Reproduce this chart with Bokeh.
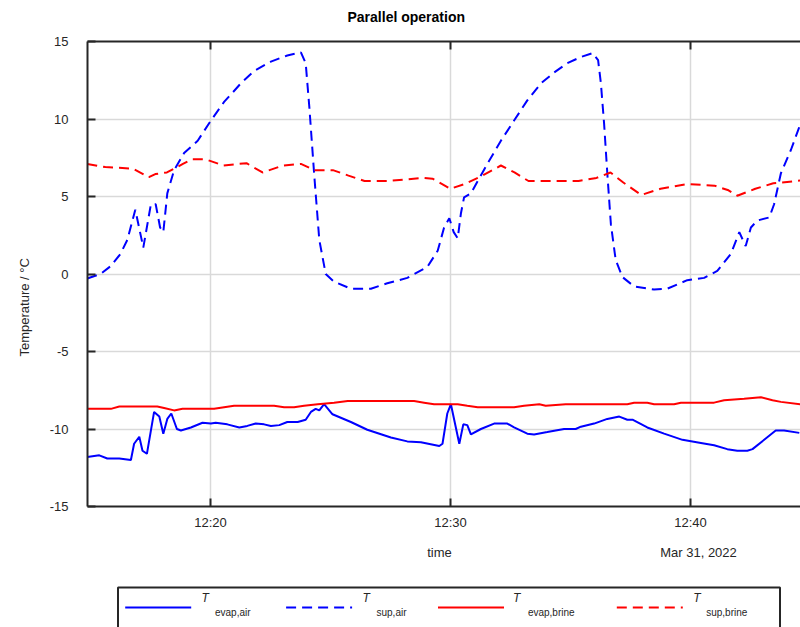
import pandas as pd
from bokeh.plotting import figure
from bokeh.models import Range1d, FixedTicker, DatetimeAxis, DatetimeTickFormatter, Title, CustomJSTickFormatter
from bokeh.layouts import column
from bokeh.core.properties import value
from bokeh.embed import file_html
from bokeh.resources import INLINE

DAY = "2022-03-31"

evap_air_time = ["12:14:52", "12:15:22", "12:15:42", "12:16:12", "12:16:41", "12:16:49", "12:17:02", "12:17:10",
                 "12:17:21", "12:17:39", "12:17:52", "12:18:02", "12:18:12", "12:18:22", "12:18:36", "12:18:46",
                 "12:19:11", "12:19:40", "12:20:01", "12:20:13", "12:20:42", "12:21:12", "12:21:32", "12:21:53",
                 "12:22:14", "12:22:31", "12:22:52", "12:23:12", "12:23:38", "12:23:58", "12:24:11", "12:24:23",
                 "12:24:32", "12:24:44", "12:25:05", "12:25:51", "12:26:32", "12:27:31", "12:28:12", "12:28:46",
                 "12:29:32", "12:29:40", "12:29:52", "12:30:01", "12:30:22", "12:30:32", "12:30:42", "12:30:51",
                 "12:31:16", "12:31:49", "12:32:22", "12:32:39", "12:33:12", "12:33:29", "12:34:02", "12:34:44",
                 "12:35:13", "12:35:26", "12:35:59", "12:36:32", "12:37:02", "12:37:22", "12:37:35", "12:38:12",
                 "12:38:54", "12:39:40", "12:40:26", "12:40:59", "12:41:32", "12:41:57", "12:42:22", "12:42:35",
                 "12:43:33", "12:43:54", "12:44:32"]
evap_air = [-11.8, -11.7, -11.9, -11.9, -12.0, -10.95, -10.5, -11.4, -11.6, -8.9, -9.2, -10.3, -9.35, -9.0, -10.0,
            -10.1, -9.9, -9.6, -9.65, -9.6, -9.7, -9.9, -9.8, -9.65, -9.7, -9.8, -9.75, -9.55, -9.55, -9.4, -8.9,
            -8.7, -8.8, -8.4, -9.05, -9.55, -10.05, -10.55, -10.8, -10.85, -11.1, -10.95, -9.0, -8.4, -10.95, -9.7,
            -9.75, -10.35, -10.0, -9.65, -9.65, -9.9, -10.3, -10.35, -10.2, -10.0, -10.0, -9.85, -9.65, -9.35, -9.2,
            -9.4, -9.4, -9.9, -10.3, -10.7, -10.9, -11.05, -11.3, -11.4, -11.4, -11.3, -10.1, -10.1, -10.25]

sup_air_time = ["12:14:52", "12:15:25", "12:15:50", "12:16:15", "12:16:32", "12:16:52", "12:17:12", "12:17:31",
                "12:17:43", "12:17:54", "12:18:02", "12:18:12", "12:18:29", "12:18:54", "12:19:28", "12:20:01",
                "12:20:34", "12:21:16", "12:21:49", "12:22:31", "12:23:12", "12:23:46", "12:23:58", "12:24:07",
                "12:24:19", "12:24:32", "12:24:48", "12:25:09", "12:25:51", "12:26:41", "12:27:22", "12:28:12",
                "12:29:02", "12:29:28", "12:29:44", "12:29:57", "12:30:08", "12:30:18", "12:30:26", "12:30:34",
                "12:30:51", "12:31:08", "12:31:32", "12:32:06", "12:32:39", "12:33:12", "12:33:46", "12:34:19",
                "12:34:52", "12:35:26", "12:35:55", "12:36:09", "12:36:16", "12:36:24", "12:36:32", "12:36:41",
                "12:36:53", "12:37:10", "12:37:39", "12:38:29", "12:39:02", "12:39:52", "12:40:34", "12:41:07",
                "12:41:41", "12:42:02", "12:42:18", "12:42:31", "12:42:47", "12:43:17", "12:43:29", "12:43:46",
                "12:44:11", "12:44:35", "12:45:00"]
sup_air = [-0.29, 0.0, 0.5, 1.3, 2.2, 4.15, 1.7, 4.5, 4.5, 3.0, 2.7, 5.2, 6.7, 7.8, 8.6, 9.9, 11.1, 12.3, 13.1,
           13.7, 14.1, 14.3, 13.6, 10.8, 6.5, 2.2, 0.0, -0.5, -0.95, -0.95, -0.6, -0.25, 0.45, 1.5, 3.0, 3.6, 2.7,
           2.3, 3.9, 4.95, 5.2, 6.0, 7.1, 8.6, 9.9, 11.2, 12.3, 13.0, 13.6, 14.0, 14.25, 13.8, 12.3, 9.7, 6.5, 3.2,
           0.9, -0.2, -0.8, -1.0, -0.95, -0.4, -0.25, 0.2, 1.3, 2.7, 1.8, 3.0, 3.45, 3.65, 4.5, 6.5, 8.0, 9.7, 11.0]

evap_brine_time = ["12:14:52", "12:15:51", "12:16:12", "12:17:47", "12:18:04", "12:18:29", "12:18:50", "12:20:09",
                   "12:20:34", "12:20:59", "12:22:39", "12:23:04", "12:23:29", "12:23:54", "12:24:28", "12:25:09",
                   "12:25:43", "12:28:29", "12:28:54", "12:29:19", "12:30:18", "12:30:42", "12:31:08", "12:32:39",
                   "12:33:04", "12:33:42", "12:33:58", "12:34:48", "12:37:22", "12:37:39", "12:38:12", "12:38:29",
                   "12:39:19", "12:39:36", "12:40:59", "12:41:24", "12:42:14", "12:42:56", "12:43:25", "12:43:46",
                   "12:44:35"]
evap_brine = [-8.7, -8.7, -8.55, -8.55, -8.65, -8.8, -8.7, -8.7, -8.6, -8.5, -8.5, -8.6, -8.6, -8.5, -8.4, -8.3,
              -8.2, -8.2, -8.3, -8.4, -8.4, -8.5, -8.6, -8.6, -8.5, -8.4, -8.5, -8.4, -8.4, -8.3, -8.3, -8.4, -8.4,
              -8.3, -8.3, -8.15, -8.05, -7.95, -8.15, -8.25, -8.4]

sup_brine_time = ["12:14:52", "12:15:37", "12:16:46", "12:17:26", "12:17:42", "12:18:11", "12:18:51", "12:19:14",
                  "12:19:48", "12:20:32", "12:21:30", "12:22:10", "12:23:01", "12:23:46", "12:24:20", "12:25:06",
                  "12:25:45", "12:26:25", "12:27:22", "12:28:52", "12:29:15", "12:30:00", "12:30:35", "12:31:20",
                  "12:32:06", "12:32:40", "12:33:15", "12:34:11", "12:35:20", "12:36:05", "12:36:40", "12:37:12",
                  "12:37:57", "12:38:45", "12:39:52", "12:41:00", "12:41:35", "12:41:57", "12:42:42", "12:43:27",
                  "12:44:25", "12:45:00"]
sup_brine = [7.1, 6.9, 6.8, 6.25, 6.45, 6.55, 7.1, 7.4, 7.4, 7.0, 7.15, 6.55, 7.0, 7.1, 6.7, 6.7, 6.35, 6.0, 6.0,
             6.2, 6.15, 5.5, 5.8, 6.35, 7.0, 6.55, 6.0, 6.0, 6.0, 6.2, 6.55, 5.9, 5.1, 5.5, 5.8, 5.7, 5.4, 5.05, 5.5,
             5.85, 6.0, 6.1]

x_ticks = ["12:20:00", "12:30:00", "12:40:00"]
y_ticks = [-15, -10, -5, 0, 5, 10, 15]
x_start, x_end = "12:14:52.5", "12:44:35"
y_start, y_end = -15, 15

title_text = "Parallel operation"
y_label = "Temperature / °C"
x_label = "time"
date_label = "Mar 31, 2022"
series_names = ["evap,air", "sup,air", "evap,brine", "sup,brine"]
series_colors = ["#0000ff", "#0000ff", "#ff0000", "#ff0000"]
series_dash = ["solid", "10 6", "solid", "10 6"]

FONT = "Liberation Sans"
INK = "#262626"


def ts(lst):
    return pd.to_datetime([f"{DAY} {t}" for t in lst])


def ms(t):
    return pd.Timestamp(f"{DAY} {t}").value // 10**6


p = figure(width=800, height=536, output_backend="svg", toolbar_location=None,
           x_axis_type="datetime",
           x_range=Range1d(pd.Timestamp(f"{DAY} {x_start}"), pd.Timestamp(f"{DAY} {x_end}")),
           y_range=Range1d(y_start, y_end),
           min_border_left=87, min_border_right=0, min_border_top=41, min_border_bottom=30)
p.outline_line_color = None
p.background_fill_color = "white"
p.border_fill_color = "white"

# trailing empty line lifts the title text higher inside the top border
p.title.text = title_text + "\n"
p.title.align = "left"
p.title.offset = 260
p.title.standoff = 2
p.title.text_font = FONT
p.title.text_font_size = "14px"
p.title.text_font_style = "bold"
p.title.text_color = "black"

xt = FixedTicker(ticks=[ms(t) for t in x_ticks])
yt = FixedTicker(ticks=y_ticks)
fmt = DatetimeTickFormatter(minutes="%H:%M", hourmin="%H:%M", hours="%H:%M", minsec="%H:%M")

xa = p.xaxis[0]
xa.ticker = xt
xa.formatter = fmt
ya = p.yaxis[0]
ya.ticker = yt
ya.formatter = CustomJSTickFormatter(code="return tick.toString()")

top = DatetimeAxis(ticker=xt, formatter=CustomJSTickFormatter(code="return ''"))
p.add_layout(top, "above")

for ax in [xa, ya, top]:
    ax.axis_line_color = INK
    ax.axis_line_width = 2
    ax.major_tick_line_color = INK
    ax.major_tick_line_width = 2
    ax.major_tick_in = 8
    ax.major_tick_out = 0
    ax.minor_tick_line_color = None
    ax.major_label_text_font = FONT
    ax.major_label_text_font_size = "13px"
    ax.major_label_text_color = INK

top.major_label_text_font_size = "0px"
top.major_label_standoff = 0
xa.major_label_standoff = 8
ya.major_label_standoff = 19

ylab = Title(text=y_label, align="left", offset=150, standoff=29, text_font=FONT,
             text_font_size="13px", text_font_style="normal", text_color=INK)
p.add_layout(ylab, "left")

p.xgrid.ticker = xt
p.ygrid.ticker = yt
p.grid.grid_line_color = "#d9d9d9"
p.grid.grid_line_width = 1.5

times = [evap_air_time, sup_air_time, evap_brine_time, sup_brine_time]
vals = [evap_air, sup_air, evap_brine, sup_brine]
for t, v, c, d in zip(times, vals, series_colors, series_dash):
    p.line(ts(t), v, line_color=c, line_width=2, line_dash=d)

# lower panel: x label, date and legend (its frame is aligned with the main frame, 87..800 px)
H2 = 91
leg = figure(width=800, height=H2, output_backend="svg", toolbar_location=None,
             x_range=Range1d(87, 800), y_range=Range1d(H2, 0), x_axis_type=None, y_axis_type=None,
             min_border=0)
leg.outline_line_color = None
leg.grid.visible = False
leg.background_fill_color = "white"
leg.border_fill_color = "white"

leg.text(x=[439, 698], y=[16, 16], text=[x_label, date_label], text_font=value(FONT), text_font_size="13px",
         text_baseline="middle", text_align="center", text_color=INK)

leg.multi_line(xs=[[117.5, 117.5, 779.5, 779.5]], ys=[[H2, 51, 51, H2]], line_color=INK, line_width=2)

sample_x = [124.7, 285.6, 437.5, 616.3]
t_x = [201, 362, 512.6, 692.7]
sub_x = [214.5, 376, 527.4, 705.7]
for sx, c, d in zip(sample_x, series_colors, series_dash):
    leg.line([sx, sx + 66], [71, 71], line_color=c, line_width=2, line_dash=d)
leg.text(x=t_x, y=[61] * 4, text=["T"] * 4, text_font=value(FONT), text_font_style="italic",
         text_font_size="12px", text_baseline="middle", text_align="left", text_color=INK)
leg.text(x=sub_x, y=[75.5] * 4, text=series_names, text_font=value(FONT),
         text_font_size="10px", text_baseline="middle", text_align="left", text_color=INK)

layout = column(p, leg, spacing=0)
open("out.html", "w").write(file_html(layout, INLINE))
